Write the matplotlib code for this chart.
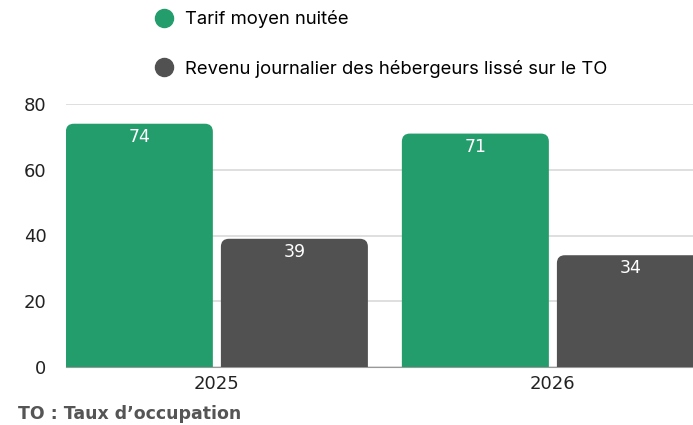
import matplotlib.pyplot as plt
from matplotlib.path import Path
from matplotlib.patches import PathPatch
from matplotlib.lines import Line2D
import numpy as np

years = ['2025', '2026']
tarif = [74, 71]
revenu = [39, 34]
series_names = ['Tarif moyen nuitée', 'Revenu journalier des hébergeurs lissé sur le TO']
colors = ['#239d6c', '#515151']

plt.rcParams['font.family'] = ['DejaVu Sans']

fig = plt.figure(figsize=(6.93, 4.25), dpi=100)
ax = fig.add_axes([66 / 693, 1 - 367 / 425, 1 - 66 / 693, (367 - 104) / 425])

x = np.arange(len(years))
w = 0.4375
off = 0.2307
ax.set_xlim(-0.449, 1.417)
ax.set_ylim(0, 80)

# rounding radius in data units (about 8 px)
rx = 8 / 336
ry = 8 / (263 / 80)


def rounded_bar(x0, h, color):
    x1 = x0 + w
    verts = [(x0, 0), (x0, h - ry), (x0, h), (x0 + rx, h),
             (x1 - rx, h), (x1, h), (x1, h - ry), (x1, 0), (x0, 0)]
    codes = [Path.MOVETO, Path.LINETO, Path.CURVE3, Path.CURVE3,
             Path.LINETO, Path.CURVE3, Path.CURVE3, Path.LINETO, Path.CLOSEPOLY]
    ax.add_patch(PathPatch(Path(verts, codes), facecolor=color, edgecolor='none', zorder=3))
    ax.text(x0 + w / 2, h - 4, str(h), ha='center', va='center', color='white',
            fontsize=12.5, zorder=4)


for i in range(len(years)):
    rounded_bar(x[i] - off - w / 2, tarif[i], colors[0])
    rounded_bar(x[i] + off - w / 2, revenu[i], colors[1])

ax.set_yticks([0, 20, 40, 60, 80])
ax.yaxis.grid(True, color='#d9d9d9', linewidth=1.2, zorder=0)
ax.set_axisbelow(True)
ax.set_xticks(x)
ax.set_xticklabels(years)
ax.tick_params(axis='both', length=0, labelsize=13, colors='#222222')
ax.tick_params(axis='y', pad=14)
ax.tick_params(axis='x', pad=6)
for s in ['top', 'right', 'left']:
    ax.spines[s].set_visible(False)
ax.spines['bottom'].set_color('#999999')

handles = [Line2D([], [], marker='o', linestyle='none', markersize=13,
                  markerfacecolor=c, markeredgecolor=c) for c in colors]
fig.legend(handles, series_names, loc='upper left', bbox_to_anchor=(136 / 693, 1.015),
           frameon=False, prop={'family': 'Inter', 'size': 13.3}, labelspacing=1.7,
           handletextpad=0.55, handlelength=1.2)

fig.text(18 / 693, 1 - 414 / 425, 'TO : Taux d\u2019occupation', fontsize=12.5,
         fontweight='bold', color='#555555', va='center', ha='left')

fig.savefig('out.png', dpi=100)
